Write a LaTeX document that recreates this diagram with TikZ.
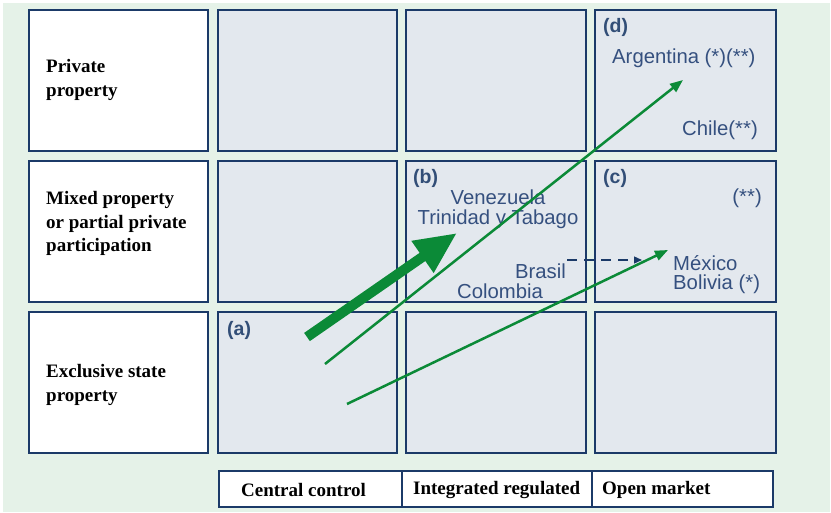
\documentclass[tikz,border=0pt]{standalone}
\usepackage{fontspec}
\setmainfont{Liberation Serif}
\setsansfont{Liberation Sans}
\usetikzlibrary{arrows.meta}
\definecolor{bggreen}{HTML}{E5F2E8}
\definecolor{cellfill}{HTML}{E3E8EE}
\definecolor{navy}{HTML}{1B3A68}
\definecolor{ctext}{HTML}{35507F}
\definecolor{arrgreen}{HTML}{0B8A37}
\begin{document}
\begin{tikzpicture}[x=1pt,y=-1pt,
  cellbox/.style={draw=navy, line width=2pt, fill=cellfill, inner sep=0pt, minimum height=141pt},
  labelbox/.style={cellbox, fill=white},
  footbox/.style={draw=navy, line width=2pt, fill=white, inner sep=0pt, minimum height=36pt},
  rowlabel/.style={anchor=west, inner sep=0pt, align=left, font=\bfseries\fontsize{19}{23.5}\selectfont, text=black},
  collabel/.style={anchor=west, inner sep=0pt, font=\bfseries\fontsize{19}{23}\selectfont, text=black},
  country/.style={inner sep=0pt, font=\sffamily\fontsize{20.3}{24}\selectfont, text=ctext},
  tag/.style={anchor=west, inner sep=0pt, font=\sffamily\bfseries\fontsize{19.5}{22}\selectfont, text=navy!90},
  bigarrow/.style={arrgreen, line width=10pt, -{Triangle[length=42pt,width=36pt]}},
  thinarrow/.style={arrgreen, line width=2.5pt, -{Triangle[length=13pt,width=10pt]}},
  dasharrow/.style={navy, line width=1.3pt, dash pattern=on 10pt off 7pt, -{Triangle[length=8pt,width=7pt]}}
]
\useasboundingbox (0,0) rectangle (831,513);
\fill[bggreen] (3,3) rectangle (830,512);

% row label boxes
\node[labelbox, minimum width=179pt] (l0) at (118.5,80.5) {};
\node[labelbox, minimum width=179pt] (l1) at (118.5,232) {};
\node[labelbox, minimum width=179pt] (l2) at (118.5,382.5) {};
% grid cells
\node[cellbox, minimum width=179pt] (r0c1) at (307.5,80.5) {};
\node[cellbox, minimum width=180pt] (r0c2) at (496,80.5) {};
\node[cellbox, minimum width=181pt] (r0c3) at (685.5,80.5) {};
\node[cellbox, minimum width=179pt] (r1c1) at (307.5,232) {};
\node[cellbox, minimum width=180pt] (r1c2) at (496,232) {};
\node[cellbox, minimum width=181pt] (r1c3) at (685.5,232) {};
\node[cellbox, minimum width=179pt] (r2c1) at (307.5,382.5) {};
\node[cellbox, minimum width=180pt] (r2c2) at (496,382.5) {};
\node[cellbox, minimum width=181pt] (r2c3) at (685.5,382.5) {};
% footer boxes
\node[footbox, minimum width=183pt] (f1) at (310.5,489) {};
\node[footbox, minimum width=190pt] (f2) at (497,489) {};
\node[footbox, minimum width=181pt] (f3) at (682.5,489) {};

% row labels
\node[rowlabel] (tl0) at (46,80) {Private\\property};
\node[rowlabel] (tl1) at (46,223.5) {Mixed property\\or partial private\\participation};
\node[rowlabel] (tl2) at (46,385) {Exclusive state\\property};
% column labels
\node[collabel] (tf1) at (241,490) {Central control};
\node[collabel] (tf2) at (413,490) {Integrated regulated};
\node[collabel] (tf3) at (602,490) {Open market};

% tags
\node[tag] (ta) at (227,330) {(a)};
\node[tag] (tb) at (413,178) {(b)};
\node[tag] (tc) at (603,178) {(c)};
\node[tag] (td) at (603,27) {(d)};

% countries
\node[country, anchor=west] (arg) at (612,58) {Argentina (*)(**)};
\node[country, anchor=east] (chi) at (758,130) {Chile(**)};
\node[country, anchor=base] (ven) at (498,204.5) {Venezuela};
\node[country, anchor=base] (tri) at (498,225) {Trinidad y Tabago};
\node[country, anchor=east] (bra) at (566,271) {Brasil};
\node[country, anchor=west] (col) at (457,291) {Colombia};
\node[country, anchor=east] (cst) at (762,198) {(**)};
\node[country, anchor=west] (mex) at (673,263) {México};
\node[country, anchor=west] (bol) at (673,284) {Bolivia (*)};

% arrows
\coordinate (bs) at (307,337);
\coordinate (be) at (457,233);
\coordinate (as) at (325,364);
\coordinate (ae) at (683,80);
\coordinate (cs) at (347,404);
\coordinate (ce) at (668,250);
\coordinate (ds) at (567,260);
\coordinate (de) at (642,260);
\draw[dasharrow] (ds) -- (de);
\draw[bigarrow] (bs) -- (be);
\draw[thinarrow] (as) -- (ae);
\draw[thinarrow] (cs) -- (ce);
\end{tikzpicture}
\end{document}
